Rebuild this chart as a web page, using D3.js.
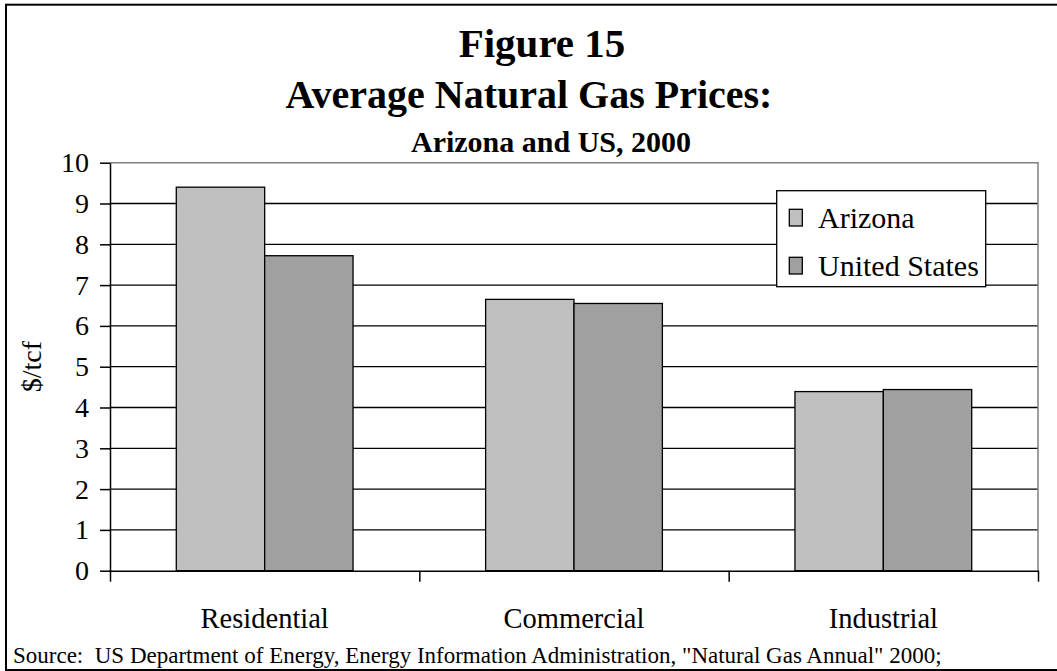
<!DOCTYPE html>
<html lang="en">
<head>
    <meta charset="UTF-8">
    <title>Figure 15 - Average Natural Gas Prices</title>
    <script src="https://d3js.org/d3.v7.min.js"></script>
    <style>
        body { margin: 0; background: #fff; }
        text { font-family: "Liberation Serif", "Times New Roman", serif; fill: #000; }
    </style>
</head>
<body>
    <div id="chart"></div>
    <script>
        // data ($/tcf)
        const categories = ["Residential", "Commercial", "Industrial"];
        const seriesNames = ["Arizona", "United States"];
        const arizona = [9.40, 6.65, 4.39];
        const unitedStates = [7.72, 6.55, 4.44];
        const yTicks = [0, 1, 2, 3, 4, 5, 6, 7, 8, 9, 10];
        const colors = ["#c0c0c0", "#a0a0a0"];

        const width = 1057, height = 671;
        const plot = { left: 110, right: 1038, top: 162.7, bottom: 570.7 };

        const svg = d3.select("#chart")
            .append("svg")
            .attr("width", width)
            .attr("height", height);

        // outer frame (right edge runs off the picture)
        svg.append("rect")
            .attr("x", 6).attr("y", 4.7)
            .attr("width", 1060).attr("height", 665.3)
            .attr("fill", "#fff")
            .attr("stroke", "#000")
            .attr("stroke-width", 2);

        // titles
        svg.append("text").attr("x", 542).attr("y", 57)
            .attr("text-anchor", "middle").attr("font-size", 41).attr("font-weight", "bold")
            .text("Figure 15");
        svg.append("text").attr("x", 529).attr("y", 108)
            .attr("text-anchor", "middle").attr("font-size", 40).attr("font-weight", "bold")
            .text("Average Natural Gas Prices:");
        svg.append("text").attr("x", 551).attr("y", 152)
            .attr("text-anchor", "middle").attr("font-size", 30).attr("font-weight", "bold")
            .text("Arizona and US, 2000");

        // scales
        const y = d3.scaleLinear().domain([0, 10]).range([plot.bottom, plot.top]);
        const x0 = d3.scaleBand().domain(categories).range([plot.left, plot.right]).padding(0);
        const x1 = d3.scaleBand().domain(seriesNames).range([0, x0.bandwidth()])
            .paddingInner(0).paddingOuter(0.75);
        const xb = d3.scaleLinear().domain([0, categories.length]).range([plot.left, plot.right]);

        // gridlines
        svg.append("g")
            .selectAll("line")
            .data(yTicks.filter(d => d > 0 && d < 10))
            .join("line")
            .attr("x1", plot.left).attr("x2", plot.right)
            .attr("y1", d => y(d)).attr("y2", d => y(d))
            .attr("stroke", "#000").attr("stroke-width", 1.3);

        // plot area border (top and right in gray)
        svg.append("path")
            .attr("d", `M${plot.left},${y(10)}H${plot.right}V${y(0)}`)
            .attr("fill", "none").attr("stroke", "#808080").attr("stroke-width", 1.5);

        // bars
        const data = categories.map((c, i) => ({ cat: c, vals: [arizona[i], unitedStates[i]] }));
        svg.append("g")
            .selectAll("g")
            .data(data)
            .join("g")
            .attr("transform", d => `translate(${x0(d.cat)},0)`)
            .selectAll("rect")
            .data(d => d.vals.map((v, j) => ({ name: seriesNames[j], value: v, j: j })))
            .join("rect")
            .attr("x", d => x1(d.name))
            .attr("y", d => y(d.value))
            .attr("width", x1.bandwidth())
            .attr("height", d => y(0) - y(d.value))
            .attr("fill", d => colors[d.j])
            .attr("stroke", "#000")
            .attr("stroke-width", 1.3);

        // y axis
        const yAxis = d3.axisLeft(y).tickValues(yTicks).tickSize(10).tickSizeOuter(0).tickPadding(11);
        const gy = svg.append("g")
            .attr("transform", `translate(${plot.left},0)`)
            .call(yAxis);
        gy.select(".domain").attr("stroke", "#000").attr("stroke-width", 1.5);
        gy.selectAll(".tick line").attr("stroke", "#000").attr("stroke-width", 1.5);
        gy.selectAll(".tick text")
            .attr("font-size", 28)
            .attr("font-family", "Liberation Serif, Times New Roman, serif");

        // x axis: tick marks between categories
        const xAxisTicks = d3.axisBottom(xb).ticks(categories.length).tickSize(11)
            .tickSizeOuter(0).tickFormat("");
        const gx = svg.append("g")
            .attr("transform", `translate(0,${plot.bottom})`)
            .call(xAxisTicks);
        gx.select(".domain").attr("stroke", "#000").attr("stroke-width", 1.5);
        gx.selectAll(".tick line").attr("stroke", "#000").attr("stroke-width", 1.5);

        // x axis: category labels
        const xAxisLabels = d3.axisBottom(x0).tickSize(0).tickPadding(0);
        const gxl = svg.append("g")
            .attr("transform", `translate(0,${plot.bottom})`)
            .call(xAxisLabels);
        gxl.select(".domain").remove();
        gxl.selectAll(".tick text")
            .attr("dy", null)
            .attr("y", 57.6)
            .attr("font-size", 28.5)
            .attr("font-family", "Liberation Serif, Times New Roman, serif");

        // y axis title
        svg.append("text")
            .attr("transform", `translate(41,${(plot.top + plot.bottom) / 2}) rotate(-90)`)
            .attr("text-anchor", "middle").attr("font-size", 28)
            .text("$/tcf");

        // legend
        const legend = svg.append("g").attr("transform", "translate(776.7,190.7)");
        legend.append("rect")
            .attr("width", 209).attr("height", 96)
            .attr("fill", "#fff").attr("stroke", "#000").attr("stroke-width", 1.3);
        const items = legend.selectAll("g.item")
            .data(seriesNames)
            .join("g")
            .attr("class", "item")
            .attr("transform", (d, i) => `translate(0,${i * 48})`);
        items.append("rect")
            .attr("x", 12.6).attr("y", 18.6)
            .attr("width", 13).attr("height", 16.7)
            .attr("fill", (d, i) => colors[i])
            .attr("stroke", "#000").attr("stroke-width", 1.3);
        items.append("text")
            .attr("x", 41.3).attr("y", 37.6)
            .attr("font-size", 30)
            .text(d => d);

        // source note
        svg.append("text")
            .attr("x", 13).attr("y", 662.7)
            .attr("font-size", 23)
            .attr("xml:space", "preserve")
            .text("Source:  US Department of Energy, Energy Information Administration, \"Natural Gas Annual\" 2000;");
    </script>
</body>
</html>
